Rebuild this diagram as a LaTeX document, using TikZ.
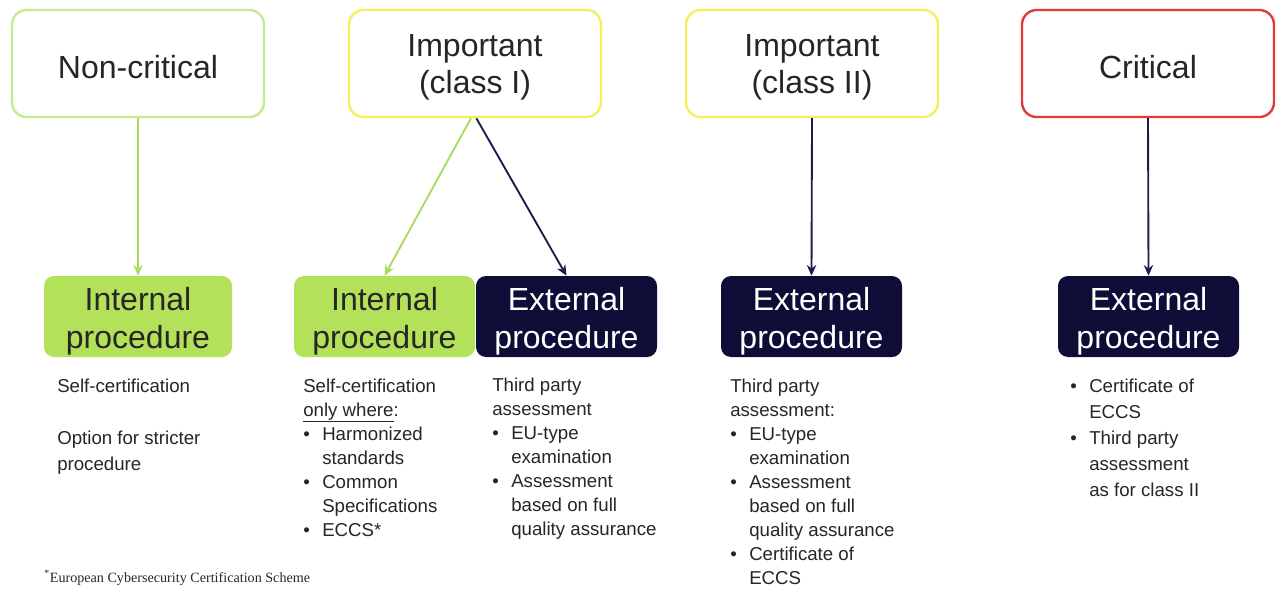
\documentclass[tikz,border=0pt]{standalone}
\usepackage{fontspec}
\setmainfont{Liberation Sans}
\newfontfamily\seriffont{Liberation Serif}
\usetikzlibrary{arrows.meta}
\definecolor{lgreen}{HTML}{C8EA8E}
\definecolor{pgreen}{HTML}{B4E15A}
\definecolor{agreen}{HTML}{A9DB5E}
\definecolor{yel}{HTML}{F4F05C}
\definecolor{redc}{HTML}{E2393B}
\definecolor{navy}{HTML}{0D0D38}
\definecolor{anavy}{HTML}{1C1C4C}
\definecolor{txt}{HTML}{262626}
\newcommand{\bitem}[1]{\makebox[14.25pt][l]{\textbullet}#1}
\newcommand{\bcont}[1]{\hspace*{14.25pt}#1}
\newenvironment{lines}{\begin{tabular}[t]{@{}l@{}}}{\end{tabular}}
\begin{document}
\begin{tikzpicture}[x=0.75pt,y=-0.75pt,
  cat/.style={draw, line width=1.8pt, rounded corners=11pt, fill=white,
    minimum width=189pt, minimum height=80.25pt},
  cattext/.style={align=center, font=\fontsize{24}{27.75}\selectfont, text=txt, yshift=-2.6pt},
  proc/.style={rounded corners=7.5pt, minimum height=60.75pt, inner sep=0pt},
  proctext/.style={align=center, font=\fontsize{24}{28.5}\selectfont, yshift=-3.4pt},
  intp/.style={proc, fill=pgreen},
  extp/.style={proc, fill=navy},
  desc/.style={anchor=base west, inner sep=0pt,
    font=\fontsize{14}{18}\selectfont, text=txt},
  conn/.style={line width=1.4pt, -{Stealth[length=8pt,width=7pt]}}]
\useasboundingbox[fill=white] (0,0) rectangle (1277,589);
% category boxes
\node[cat, draw=lgreen, label={[cattext]center:Non-critical}] (nc) at (138,63.5) {};
\node[cat, draw=yel, label={[cattext]center:Important\\(class I)}] (c1) at (475,63.5) {};
\node[cat, draw=yel, label={[cattext]center:Important\\(class II)}] (c2) at (812,63.5) {};
\node[cat, draw=redc, label={[cattext]center:Critical}] (cr) at (1148,63.5) {};
% procedure boxes
\node[intp, minimum width=141pt, label={[proctext, text=txt]center:Internal\\procedure}] (p1) at (138,316.5) {};
\node[intp, minimum width=135.75pt, label={[proctext, text=txt]center:Internal\\procedure}] (p2) at (384.5,316.5) {};
\node[extp, minimum width=135.75pt, label={[proctext, text=white]center:External\\procedure}] (p3) at (566.5,316.5) {};
\node[extp, minimum width=135.75pt, label={[proctext, text=white]center:External\\procedure}] (p4) at (811.5,316.5) {};
\node[extp, minimum width=135.75pt, label={[proctext, text=white]center:External\\procedure}] (p5) at (1148.5,316.5) {};
% connectors
\draw[conn, agreen] (nc.south) -- (p1.north);
\draw[conn, agreen] ([xshift=-3pt]c1.south) -- (p2.north);
\draw[conn, anavy] ([xshift=1pt]c1.south) -- (p3.north);
\draw[conn, anavy] (c2.south) -- (p4.north);
\draw[conn, anavy] (cr.south) -- (p5.north);
% descriptions
\node[desc, font=\fontsize{14}{19.5}\selectfont] (d1) at (57,392) {\begin{lines}Self-certification\\ \\Option for stricter\\procedure\end{lines}};
\node[desc] (d2) at (303,392) {\begin{lines}Self-certification\\\underline{only where}:\\\bitem{Harmonized}\\\bcont{standards}\\\bitem{Common}\\\bcont{Specifications}\\\bitem{ECCS*}\end{lines}};
\node[desc] (d3) at (492,391) {\begin{lines}Third party\\assessment\\\bitem{EU-type}\\\bcont{examination}\\\bitem{Assessment}\\\bcont{based on full}\\\bcont{quality assurance}\end{lines}};
\node[desc] (d4) at (730,392) {\begin{lines}Third party\\assessment:\\\bitem{EU-type}\\\bcont{examination}\\\bitem{Assessment}\\\bcont{based on full}\\\bcont{quality assurance}\\\bitem{Certificate of}\\\bcont{ECCS}\end{lines}};
\node[desc, font=\fontsize{14}{19.5}\selectfont] (d5) at (1070,392) {\begin{lines}\bitem{Certificate of}\\\bcont{ECCS}\\\bitem{Third party}\\\bcont{assessment}\\\bcont{as for class II}\end{lines}};
\node[desc, font=\seriffont\fontsize{10.6}{12}\selectfont] (fn) at (44,582) {\textsuperscript{*}European Cybersecurity Certification Scheme};
\end{tikzpicture}
\end{document}
